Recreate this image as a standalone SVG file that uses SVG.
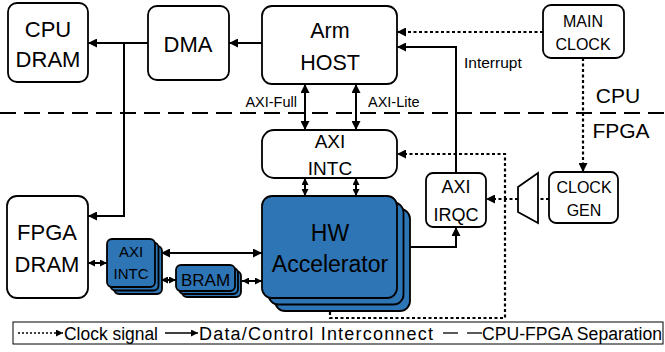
<svg xmlns="http://www.w3.org/2000/svg" width="665" height="352" viewBox="0 0 665 352">
<style>
text{font-family:"Liberation Sans",Arial,sans-serif;fill:#000;text-anchor:middle}
.box{fill:#fff;stroke:#000;stroke-width:1.8}
.blue{fill:#2E75B6;stroke:#000;stroke-width:1.8}
.ln{fill:none;stroke:#000;stroke-width:2}
.dot{fill:none;stroke:#000;stroke-width:2.2;stroke-dasharray:3 2.5}
.sep{fill:none;stroke:#000;stroke-width:1.8;stroke-dasharray:16 8}
</style>
<defs>
<marker id="a" viewBox="0 0 10 10" refX="10" refY="5" markerWidth="9" markerHeight="9" markerUnits="userSpaceOnUse" orient="auto-start-reverse"><path d="M0,0L10,5L0,10z" fill="#000"/></marker>
<marker id="s" viewBox="0 0 10 10" refX="10" refY="5" markerWidth="7" markerHeight="7" markerUnits="userSpaceOnUse" orient="auto-start-reverse"><path d="M0,0L10,5L0,10z" fill="#000"/></marker>
</defs>
<line class="sep" x1="0" y1="113" x2="665" y2="113"/>
<text x="618" y="103" font-size="21">CPU</text>
<text x="621" y="138" font-size="21">FPGA</text>
<g id="connectors">
<line class="ln" x1="148" y1="43" x2="88" y2="43" marker-end="url(#a)"/>
<line class="ln" x1="262" y1="43" x2="229" y2="43" marker-end="url(#a)"/>
<path class="ln" d="M124,43V216H88" marker-end="url(#a)"/>
<line class="dot" x1="543" y1="32" x2="397" y2="32" marker-end="url(#a)"/>
<path class="ln" d="M456,173V47H397" marker-end="url(#a)"/>
<line class="dot" x1="583" y1="58" x2="583" y2="172" marker-end="url(#a)"/>
<line class="ln" x1="305" y1="84" x2="305" y2="130" marker-start="url(#a)" marker-end="url(#a)"/>
<line class="ln" x1="356" y1="84" x2="356" y2="130" marker-start="url(#a)" marker-end="url(#a)"/>
<line class="ln" x1="305" y1="178" x2="305" y2="196" marker-start="url(#s)" marker-end="url(#s)"/>
<line class="ln" x1="356" y1="178" x2="356" y2="196" marker-start="url(#s)" marker-end="url(#s)"/>
<path class="ln" d="M397,247H456V227" marker-end="url(#a)"/>
<line class="dot" x1="549" y1="199" x2="538" y2="199"/>
<line class="dot" x1="518" y1="199" x2="486" y2="199" marker-end="url(#a)"/>
<path class="dot" d="M505,199V154H397" marker-end="url(#a)"/>
<path class="dot" d="M505,199V318H330V298" marker-end="url(#a)"/>
<line class="ln" x1="88" y1="263" x2="107" y2="263" marker-start="url(#s)" marker-end="url(#s)"/>
<line class="ln" x1="161" y1="253" x2="262" y2="253" marker-start="url(#a)" marker-end="url(#a)"/>
<line class="ln" x1="161" y1="280" x2="176" y2="280" marker-start="url(#s)" marker-end="url(#s)"/>
<line class="ln" x1="242" y1="281" x2="262" y2="281" marker-start="url(#s)" marker-end="url(#s)"/>
<text x="297" y="107" font-size="14.5" style="text-anchor:end">AXI-Full</text>
<text x="368" y="107" font-size="14.5" style="text-anchor:start">AXI-Lite</text>
<text x="464" y="68" font-size="15.5" style="text-anchor:start">Interrupt</text>
</g>
<g id="cpu-dram"><rect class="box" x="8" y="3" width="80" height="79" rx="9"/><text x="48" y="37" font-size="22">CPU</text><text x="48" y="67" font-size="22">DRAM</text></g>
<g id="dma"><rect class="box" x="148" y="6" width="81" height="74" rx="9"/><text x="188" y="52" font-size="22">DMA</text></g>
<g id="arm-host"><rect class="box" x="262" y="6" width="135" height="78" rx="10"/><text x="330" y="38" font-size="21.5">Arm</text><text x="330" y="70" font-size="21.5">HOST</text></g>
<g id="main-clock"><rect class="box" x="543" y="5" width="81" height="53" rx="8"/><text x="583" y="27" font-size="16">MAIN</text><text x="583" y="50" font-size="16">CLOCK</text></g>
<g id="axi-intc"><rect class="box" x="262" y="130" width="135" height="48" rx="12"/><text x="330" y="148" font-size="19">AXI</text><text x="330" y="175" font-size="19">INTC</text></g>
<g id="hw-accel">
<rect class="blue" x="275" y="209" width="135" height="102" rx="10"/>
<rect class="blue" x="268.5" y="202.5" width="135" height="102" rx="10"/>
<rect class="blue" x="262" y="196" width="135" height="102" rx="10"/>
<text x="330" y="241" font-size="23">HW</text><text x="330" y="272" font-size="23">Accelerator</text></g>
<g id="axi-irqc"><rect class="box" x="426" y="173" width="60" height="54" rx="7"/><text x="456" y="193" font-size="18">AXI</text><text x="456" y="221" font-size="18">IRQC</text></g>
<g id="mux"><polygon class="box" points="518,187 538,173 538,223 518,212"/></g>
<g id="clock-gen"><rect class="box" x="549" y="172" width="69" height="51" rx="7"/><text x="584" y="193" font-size="16">CLOCK</text><text x="584" y="216" font-size="16">GEN</text></g>
<g id="fpga-dram"><rect class="box" x="7" y="196" width="81" height="102" rx="10"/><text x="47" y="240" font-size="22">FPGA</text><text x="47" y="272" font-size="22">DRAM</text></g>
<g id="axi-intc-small">
<rect class="blue" x="114" y="246" width="48" height="48" rx="5"/>
<rect class="blue" x="110.5" y="242.5" width="48" height="48" rx="5"/>
<rect class="blue" x="107" y="239" width="48" height="48" rx="5"/>
<text x="131" y="257" font-size="15">AXI</text><text x="131" y="279" font-size="15">INTC</text></g>
<g id="bram">
<rect class="blue" x="182" y="271" width="59" height="26" rx="5"/>
<rect class="blue" x="179" y="268" width="59" height="26" rx="5"/>
<rect class="blue" x="176" y="265" width="59" height="26" rx="5"/>
<text x="205.5" y="286" font-size="17">BRAM</text></g>
<g id="legend">
<rect x="13" y="322" width="650" height="22" fill="none" stroke="#000" stroke-width="1"/>
<line x1="18" y1="333" x2="63" y2="333" stroke="#000" stroke-width="1.3" stroke-dasharray="2 2" marker-end="url(#s)"/>
<text x="64" y="340" font-size="18" textLength="94" lengthAdjust="spacingAndGlyphs" style="text-anchor:start">Clock signal</text>
<line x1="165" y1="333" x2="198" y2="333" stroke="#000" stroke-width="1.3" marker-end="url(#s)"/>
<text x="199" y="340" font-size="18" textLength="234" lengthAdjust="spacing" style="text-anchor:start">Data/Control Interconnect</text>
<line x1="443" y1="333" x2="458" y2="333" stroke="#000" stroke-width="1.3"/>
<line x1="467" y1="333" x2="482" y2="333" stroke="#000" stroke-width="1.3"/>
<text x="482" y="340" font-size="18" textLength="180" lengthAdjust="spacingAndGlyphs" style="text-anchor:start">CPU-FPGA Separation</text>
</g>
</svg>
